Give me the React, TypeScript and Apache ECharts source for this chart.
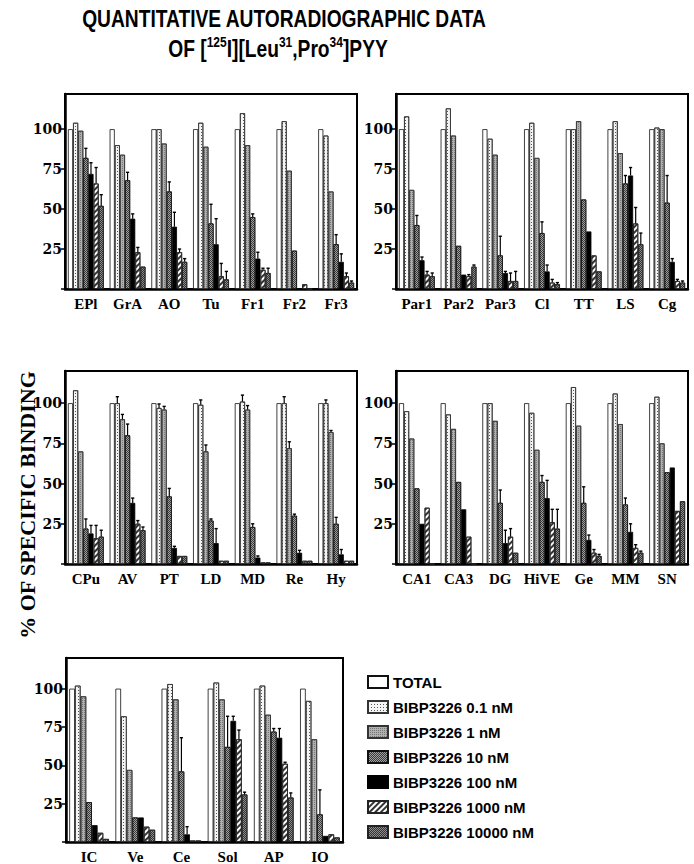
import React, { useEffect, useRef } from 'react';
import * as echarts from 'echarts';

const SERIES_NAMES = [
  'TOTAL',
  'BIBP3226 0.1 nM',
  'BIBP3226 1 nM',
  'BIBP3226 10 nM',
  'BIBP3226 100 nM',
  'BIBP3226 1000 nM',
  'BIBP3226 10000 nM',
];

const Y_TICKS = [25, 50, 75, 100];

// Panel A
const CATS_A = ['EPl', 'GrA', 'AO', 'Tu', 'Fr1', 'Fr2', 'Fr3'];
const VALS_A = [
  [100, 100, 100, 100, 100, 100, 100],
  [104, 90, 100, 104, 110, 105, 96],
  [99, 84, 91, 89, 90, 74, 61],
  [82, 68, 61, 41, 45, 24, 28],
  [72, 44, 39, 28, 19, 0, 17],
  [66, 23, 23, 8, 12, 3, 8],
  [52, 14, 17, 6, 10, 0, 4],
];
const ERRS_A = [
  [0, 0, 0, 0, 0, 0, 0],
  [0, 0, 0, 0, 0, 0, 0],
  [0, 0, 0, 0, 0, 0, 0],
  [6, 5, 6, 12, 2, 0, 6],
  [7, 3, 9, 16, 4, 0, 5],
  [10, 3, 2, 8, 1, 0, 2],
  [7, 0, 2, 5, 3, 0, 1],
];

// Panel B
const CATS_B = ['Par1', 'Par2', 'Par3', 'Cl', 'TT', 'LS', 'Cg'];
const VALS_B = [
  [100, 100, 100, 100, 100, 100, 100],
  [108, 113, 94, 104, 100, 105, 101],
  [62, 96, 84, 82, 105, 85, 100],
  [40, 27, 21, 35, 56, 66, 54],
  [18, 9, 10, 11, 36, 71, 17],
  [9, 8, 5, 4, 21, 41, 5],
  [8, 14, 5, 3, 11, 28, 4],
];
const ERRS_B = [
  [0, 0, 0, 0, 0, 0, 0],
  [0, 0, 0, 0, 0, 0, 0],
  [0, 0, 0, 0, 0, 0, 0],
  [6, 0, 12, 7, 0, 5, 17],
  [2, 0, 1, 4, 0, 5, 2],
  [2, 1, 5, 2, 0, 10, 1],
  [2, 1, 6, 1, 0, 7, 1],
];

// Panel C
const CATS_C = ['CPu', 'AV', 'PT', 'LD', 'MD', 'Re', 'Hy'];
const VALS_C = [
  [100, 100, 100, 100, 100, 100, 100],
  [108, 100, 97, 99, 101, 100, 100],
  [70, 90, 96, 70, 96, 72, 82],
  [22, 80, 42, 27, 23, 30, 25],
  [19, 38, 10, 13, 4, 7, 6],
  [16, 25, 5, 2, 1, 2, 2],
  [17, 21, 5, 2, 1, 2, 2],
];
const ERRS_C = [
  [0, 0, 0, 0, 0, 0, 0],
  [0, 4, 2.5, 3, 4, 4, 2],
  [0, 3, 2, 4, 2.5, 4, 1],
  [6, 7, 5, 1, 2, 1, 4],
  [5, 3, 1, 9, 1, 1.5, 3],
  [8, 2, 0, 0, 0, 0, 0],
  [4, 2, 0, 0, 0, 0, 0],
];

// Panel D
const CATS_D = ['CA1', 'CA3', 'DG', 'HiVE', 'Ge', 'MM', 'SN'];
const VALS_D = [
  [100, 100, 100, 100, 100, 100, 100],
  [95, 93, 100, 94, 110, 106, 104],
  [78, 84, 89, 71, 86, 87, 75],
  [47, 51, 38, 51, 38, 37, 57],
  [25, 34, 13, 41, 15, 20, 60],
  [35, 17, 17, 26, 7, 10, 33],
  [0, 0, 7, 22, 5, 7, 39],
];
const ERRS_D = [
  [0, 0, 0, 0, 0, 0, 0],
  [0, 0, 0, 0, 0, 0, 0],
  [0, 0, 0, 0, 0, 0, 0],
  [0, 0, 8, 4, 10, 4, 0],
  [0, 0, 8, 11, 3, 5, 0],
  [0, 0, 5, 8, 2, 2, 0],
  [0, 0, 0, 12, 1, 1, 0],
];

// Panel E
const CATS_E = ['IC', 'Ve', 'Ce', 'Sol', 'AP', 'IO'];
const VALS_E = [
  [100, 100, 100, 100, 100, 100],
  [102, 82, 103, 104, 102, 92],
  [95, 47, 93, 93, 83, 67],
  [26, 16, 46, 62, 72, 18],
  [11, 16, 5, 79, 68, 4],
  [6, 10, 1, 67, 51, 5],
  [2, 8, 1, 31, 29, 3],
];
const ERRS_E = [
  [0, 0, 0, 0, 0, 0],
  [0, 0, 0, 0, 0, 0],
  [0, 0, 0, 0, 0, 0],
  [0, 0, 22, 20, 2, 16],
  [0, 0, 5, 3, 6, 0],
  [0, 0, 0, 6, 1, 0],
  [0, 0, 0, 1.5, 3, 0],
];

const PANELS = [
  { cats: CATS_A, vals: VALS_A, errs: ERRS_A },
  { cats: CATS_B, vals: VALS_B, errs: ERRS_B },
  { cats: CATS_C, vals: VALS_C, errs: ERRS_C },
  { cats: CATS_D, vals: VALS_D, errs: ERRS_D },
  { cats: CATS_E, vals: VALS_E, errs: ERRS_E },
];

const GRID_BOXES = [
  { left: 65, top: 94, width: 292, height: 195, max: 122 },
  { left: 396, top: 94, width: 292, height: 195, max: 122 },
  { left: 65, top: 371, width: 292, height: 193, max: 120 },
  { left: 396, top: 371, width: 292, height: 193, max: 120 },
  { left: 66, top: 658, width: 277, height: 184, max: 120 },
];

const CAT_GAP = 0.14;

const BAR_STYLES: any[] = [
  { color: '#ffffff', borderColor: '#111', borderWidth: 0.8 },
  {
    color: '#f4f4f4', borderColor: '#333', borderWidth: 0.8,
    decal: { symbol: 'rect', symbolSize: 1, dashArrayX: [1, 2], dashArrayY: [1, 2], color: '#555' },
  },
  {
    color: '#b0b0b0', borderColor: '#333', borderWidth: 0.8,
    decal: { symbol: 'rect', symbolSize: 1, dashArrayX: [1, 1], dashArrayY: [1, 1], color: '#777' },
  },
  {
    color: '#3a3a3a', borderColor: '#111', borderWidth: 0.8,
    decal: { symbol: 'rect', symbolSize: 1, dashArrayX: [[1, 1], [0, 1, 1, 0]], dashArrayY: [1, 0], color: '#a0a0a0' },
  },
  { color: '#000000', borderColor: '#000', borderWidth: 0.8 },
  {
    color: '#ffffff', borderColor: '#222', borderWidth: 0.8,
    decal: { symbol: 'rect', symbolSize: 1, dashArrayX: [1, 0], dashArrayY: [1.2, 2], rotation: -Math.PI / 4, color: '#333' },
  },
  {
    color: '#8c8c8c', borderColor: '#222', borderWidth: 0.8,
    decal: { symbol: 'rect', symbolSize: 1, dashArrayX: [[1, 1], [0, 1, 1, 0]], dashArrayY: [1, 0], color: '#333' },
  },
];

export default function App() {
  const ref = useRef<HTMLDivElement>(null);

  useEffect(() => {
    if (!ref.current) return;
    const chart = echarts.init(ref.current, null, { renderer: 'svg' });

    const grid = GRID_BOXES.map((g) => ({
      left: g.left, top: g.top, width: g.width, height: g.height,
      show: true, borderColor: '#000', borderWidth: 2, backgroundColor: 'transparent',
      containLabel: false,
    }));

    const xAxis = PANELS.map((p, i) => ({
      type: 'category',
      gridIndex: i,
      data: p.cats,
      axisLine: { show: true, lineStyle: { color: '#000', width: 2.5 } },
      axisTick: { show: false },
      axisLabel: {
        color: '#000', fontFamily: '"Liberation Serif", serif', fontWeight: 'bold', fontSize: 15,
        margin: 7, interval: 0,
      },
      splitLine: { show: false },
    }));

    const yAxis = GRID_BOXES.map((g, i) => ({
      type: 'value',
      gridIndex: i,
      min: 0,
      max: g.max,
      interval: 25,
      axisLine: { show: true, lineStyle: { color: '#000', width: 2.5 } },
      axisTick: { show: true, length: 4, lineStyle: { color: '#000', width: 1.5 } },
      axisLabel: {
        color: '#000', fontFamily: '"DejaVu Serif", serif', fontWeight: 'bold', fontSize: 14, margin: 3,
        showMaxLabel: false,
        formatter: (v: number) => (Y_TICKS.indexOf(v) >= 0 ? String(v) : ''),
      },
      splitLine: { show: false },
    }));

    const series: any[] = [];
    PANELS.forEach((p, gi) => {
      SERIES_NAMES.forEach((name, si) => {
        series.push({
          type: 'bar',
          name,
          xAxisIndex: gi,
          yAxisIndex: gi,
          data: p.vals[si],
          barGap: '0%',
          barCategoryGap: CAT_GAP * 100 + '%',
          itemStyle: BAR_STYLES[si],
          emphasis: { disabled: true },
          z: 2,
        });
      });
      const errData: any[] = [];
      p.vals.forEach((row, si) => {
        row.forEach((v, ci) => {
          const e = p.errs[si][ci];
          if (e > 0) errData.push([ci, v, e, si]);
        });
      });
      series.push({
        type: 'custom',
        xAxisIndex: gi,
        yAxisIndex: gi,
        z: 5,
        silent: true,
        encode: { x: 0, y: 1 },
        data: errData,
        renderItem: (params: any, api: any) => {
          const ci = api.value(0);
          const v = api.value(1);
          const e = api.value(2);
          const si = api.value(3);
          const base = api.coord([ci, v]);
          const top = api.coord([ci, v + e]);
          const band = api.size([1, 0])[0];
          const total = band * (1 - CAT_GAP);
          const bw = total / 7;
          const x = base[0] - total / 2 + bw * (si + 0.5);
          return {
            type: 'group',
            children: [
              { type: 'line', shape: { x1: x, y1: base[1], x2: x, y2: top[1] }, style: { stroke: '#000', lineWidth: 1.2 } },
              { type: 'line', shape: { x1: x - 1.6, y1: top[1], x2: x + 1.6, y2: top[1] }, style: { stroke: '#000', lineWidth: 1.4 } },
            ],
          };
        },
      });
    });

    const option: any = {
      animation: false,
      backgroundColor: '#ffffff',
      grid,
      xAxis,
      yAxis,
      series,
      legend: {
        data: SERIES_NAMES,
        orient: 'vertical',
        left: 362,
        top: 669,
        itemWidth: 20,
        itemHeight: 12,
        itemGap: 9,
        icon: 'rect',
        selectedMode: false,
        textStyle: {
          color: '#000', fontFamily: '"Liberation Sans", Arial, sans-serif', fontWeight: 'bold',
          fontSize: 15, lineHeight: 16,
        },
      },
      graphic: [
        {
          type: 'text',
          x: 284,
          y: 18.5,
          scaleX: 0.8,
          style: {
            text: 'QUANTITATIVE AUTORADIOGRAPHIC DATA',
            fontFamily: '"Liberation Sans", Arial, sans-serif',
            fontWeight: 'bold',
            fontSize: 24,
            fill: '#000',
            align: 'center',
            verticalAlign: 'middle',
          },
        },
        {
          type: 'text',
          x: 278,
          y: 49,
          scaleX: 0.8,
          style: {
            text: 'OF [{s|125}I][Leu{s|31},Pro{s|34}]PYY',
            fontFamily: '"Liberation Sans", Arial, sans-serif',
            fontWeight: 'bold',
            fontSize: 24,
            lineHeight: 28,
            fill: '#000',
            align: 'center',
            verticalAlign: 'middle',
            rich: {
              s: {
                fontFamily: '"Liberation Sans", Arial, sans-serif',
                fontWeight: 'bold',
                fontSize: 15,
                verticalAlign: 'top',
                lineHeight: 16,
              },
            },
          },
        },
        {
          type: 'text',
          x: 27,
          y: 505,
          rotation: Math.PI / 2,
          style: {
            text: '% OF SPECIFIC BINDING',
            fontFamily: '"Liberation Serif", serif',
            fontWeight: 'bold',
            fontSize: 22,
            fill: '#000',
            align: 'center',
            verticalAlign: 'middle',
          },
        },
      ],
    };

    chart.setOption(option);
    return () => {
      chart.dispose();
    };
  }, []);

  return (
    <div
      ref={ref}
      style={{ position: 'absolute', left: 0, top: 0, width: 694, height: 864, background: '#fff' }}
    />
  );
}
